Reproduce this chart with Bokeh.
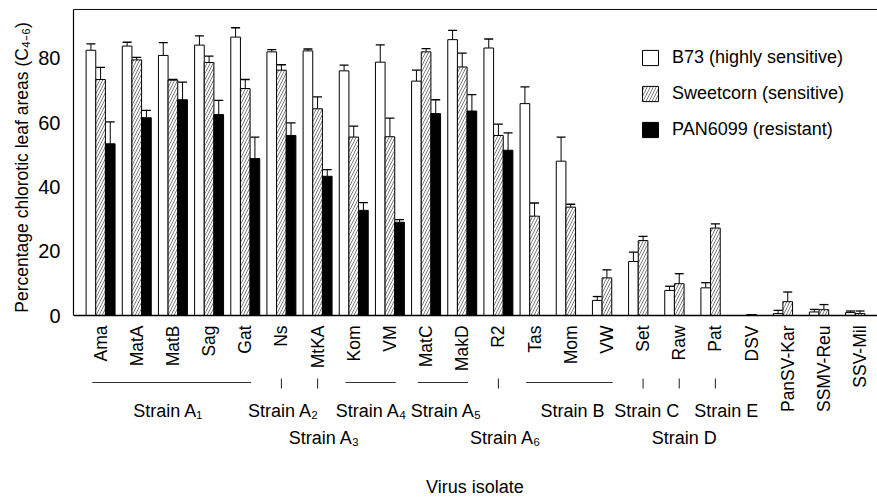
import math
from bokeh.plotting import figure
from bokeh.layouts import row
from bokeh.models import (ColumnDataSource, Range1d, Span, Whisker, TeeHead,
                          FixedTicker, Legend, LegendItem)
from bokeh.core.properties import value
from bokeh.embed import file_html
from bokeh.resources import INLINE

nan = float("nan")

isolates = ["Ama", "MatA", "MatB", "Sag", "Gat", "Ns", "MtKA", "Kom", "VM", "MatC",
            "MakD", "R2", "Tas", "Mom", "VW", "Set", "Raw", "Pat", "DSV",
            "PanSV-Kar", "SSMV-Reu", "SSV-Mil"]

b73 = [82.5, 83.8, 80.9, 84.1, 86.6, 82.0, 82.3, 76.1, 78.8, 72.9, 85.8, 83.2,
       65.9, 48.0, 4.7, 16.8, 7.8, 8.6, nan, 0.6, 1.1, 0.9]
b73_err = [2.0, 1.2, 4.0, 2.9, 2.9, 0.7, 0.6, 1.8, 5.4, 3.4, 2.9, 2.8,
           5.2, 7.5, 1.2, 2.9, 1.3, 1.6, nan, 1.0, 0.8, 0.5]
sweet = [73.4, 79.5, 73.2, 78.7, 70.6, 76.3, 64.3, 55.5, 55.6, 82.0, 77.3, 56.0,
         30.9, 33.7, 11.7, 23.3, 9.9, 27.2, 0.3, 4.3, 1.8, 0.6]
sweet_err = [3.8, 0.8, 0.2, 2.0, 2.8, 1.7, 3.7, 3.4, 5.8, 1.0, 4.3, 3.5,
             4.1, 0.9, 2.5, 1.3, 3.1, 1.3, nan, 3.0, 1.6, 0.8]
pan = [53.4, 61.5, 67.1, 62.5, 48.8, 56.0, 43.3, 32.7, 29.0, 62.8, 63.6, 51.4,
       nan, nan, nan, nan, nan, nan, nan, nan, nan, nan]
pan_err = [6.8, 2.3, 5.5, 4.4, 6.7, 3.9, 2.1, 2.4, 0.8, 4.3, 5.1, 5.4,
           nan, nan, nan, nan, nan, nan, nan, nan, nan, nan]

series_labels = ["B73 (highly sensitive)", "Sweetcorn (sensitive)", "PAN6099 (resistant)"]
y_title = "Percentage chlorotic leaf areas (C\u2084\u208b\u2086)"
x_title = "Virus isolate"

# strain groups: (label, first isolate index, last isolate index, label row, label nudge)
strains = [("Strain A\u2081", 0, 4, 0, -0.13),
           ("Strain A\u2082", 5, 5, 0, 0.06),
           ("Strain A\u2083", 6, 6, 1, 0.19),
           ("Strain A\u2084", 7, 8, 0, -0.01),
           ("Strain A\u2085", 9, 10, 0, 0.06),
           ("Strain A\u2086", 11, 11, 1, 0.2),
           ("Strain B", 12, 14, 0, 0.05),
           ("Strain C", 15, 15, 0, 0.1),
           ("Strain D", 16, 16, 1, 0.14),
           ("Strain E", 17, 17, 0, 0.3)]

FONT = "Liberation Sans"
W = 0.267  # bar width in category units
idx = list(range(len(isolates)))

# ---------------- narrow panel holding the y-axis title ----------------
t = figure(width=35, height=498, x_range=Range1d(0, 35), y_range=Range1d(498, 0),
           x_axis_location=None, y_axis_location=None,
           output_backend="svg", toolbar_location=None,
           min_border_left=0, min_border_right=0, min_border_top=0, min_border_bottom=0)
t.xgrid.visible = False
t.ygrid.visible = False
t.outline_line_color = None
t.text(x=[21], y=[161.5], text=[y_title], angle=math.pi / 2,
       text_align="center", text_baseline="middle",
       text_font=value(FONT), text_font_size="17.5px", text_color="black")

# ---------------- main panel ----------------
p = figure(width=842, height=498,
           x_range=Range1d(-0.749, 21.482), y_range=Range1d(-56.92, 95.49),
           x_axis_location=None, y_axis_location="left",
           output_backend="svg", toolbar_location=None,
           min_border_left=35, min_border_right=0, min_border_top=8, min_border_bottom=0)
p.xgrid.visible = False
p.ygrid.visible = False
p.outline_line_color = None
p.background_fill_color = "white"

ax = p.yaxis[0]
ax.ticker = FixedTicker(ticks=[0, 20, 40, 60, 80])
ax.bounds = (0, 95.2)
ax.major_tick_line_color = None
ax.minor_tick_line_color = None
ax.axis_line_color = "black"
ax.axis_line_width = 1.2
ax.major_label_text_font = FONT
ax.major_label_text_font_size = "20px"
ax.major_label_text_color = "black"
ax.major_label_standoff = 7

# frame top line and baseline
p.add_layout(Span(location=95.2, dimension="width", line_color="black", line_width=1))
p.add_layout(Span(location=0, dimension="width", line_color="black", line_width=1.5))

src = ColumnDataSource(dict(
    x1=[i - W for i in idx], x2=[i for i in idx], x3=[i + W for i in idx],
    b73=b73, sweet=sweet, pan=pan))
r1 = p.vbar(x="x1", top="b73", bottom=0, width=W, source=src,
            fill_color="white", line_color="black", line_width=1)
r2 = p.vbar(x="x2", top="sweet", bottom=0, width=W, source=src,
            fill_color="white", line_color="black", line_width=1,
            hatch_pattern="right_diagonal_line", hatch_color="#444444",
            hatch_scale=6, hatch_weight=0.7)
r3 = p.vbar(x="x3", top="pan", bottom=0, width=W, source=src,
            fill_color="black", line_color="black", line_width=1)

def add_err(xs, vals, errs):
    bx, lo, hi = [], [], []
    for x, v, e in zip(xs, vals, errs):
        if not (math.isnan(v) or math.isnan(e)):
            bx.append(x)
            lo.append(v)
            hi.append(v + e)
    es = ColumnDataSource(dict(base=bx, lower=lo, upper=hi))
    p.add_layout(Whisker(source=es, base="base", lower="lower", upper="upper",
                         dimension="height", line_color="black", line_width=1,
                         lower_head=None,
                         upper_head=TeeHead(size=9, line_color="black", line_width=1.3)))

add_err([i - W for i in idx], b73, b73_err)
add_err([i for i in idx], sweet, sweet_err)
add_err([i + W for i in idx], pan, pan_err)

# isolate names under the axis
p.text(x=idx, y=[-3.1] * len(idx), text=isolates, angle=math.pi / 2,
       text_align="right", text_baseline="middle",
       text_font=value(FONT), text_font_size="17.5px", text_color="black")

# strain grouping lines and labels
LINE_Y = -20.84
sx0, sx1, sy0, sy1 = [], [], [], []
lx, ly, lt = [], [], []
for name, a, b, rw, nudge in strains:
    if a == b:
        sx0.append(a); sx1.append(a); sy0.append(-19.6); sy1.append(-22.7)
    else:
        sx0.append(a - 0.23); sx1.append(b + 0.16); sy0.append(LINE_Y); sy1.append(LINE_Y)
    lx.append((a + b) / 2 + nudge)
    ly.append(-29.55 if rw == 0 else -37.95)
    lt.append(name)
p.segment(x0=sx0, y0=sy0, x1=sx1, y1=sy1, line_color="#333333", line_width=1.1)
p.text(x=lx, y=ly, text=lt, text_align="center", text_baseline="middle",
       text_font=value(FONT), text_font_size="18px", text_color="black")

p.text(x=[10.35], y=[-56.6], text=[x_title], text_align="center",
       text_baseline="bottom", text_font=value(FONT), text_font_size="18px",
       text_color="black")

legend = Legend(items=[LegendItem(label=series_labels[0], renderers=[r1]),
                       LegendItem(label=series_labels[1], renderers=[r2]),
                       LegendItem(label=series_labels[2], renderers=[r3])],
                location=(567, 358), orientation="vertical",
                glyph_width=20, glyph_height=19, label_height=19,
                label_standoff=12, spacing=15, padding=0, margin=0,
                border_line_color=None, background_fill_alpha=0,
                label_text_font=FONT, label_text_font_size="18px",
                label_text_color="black")
p.add_layout(legend, "center")

layout = row(t, p, spacing=0)
open("out.html", "w").write(file_html(layout, INLINE))
